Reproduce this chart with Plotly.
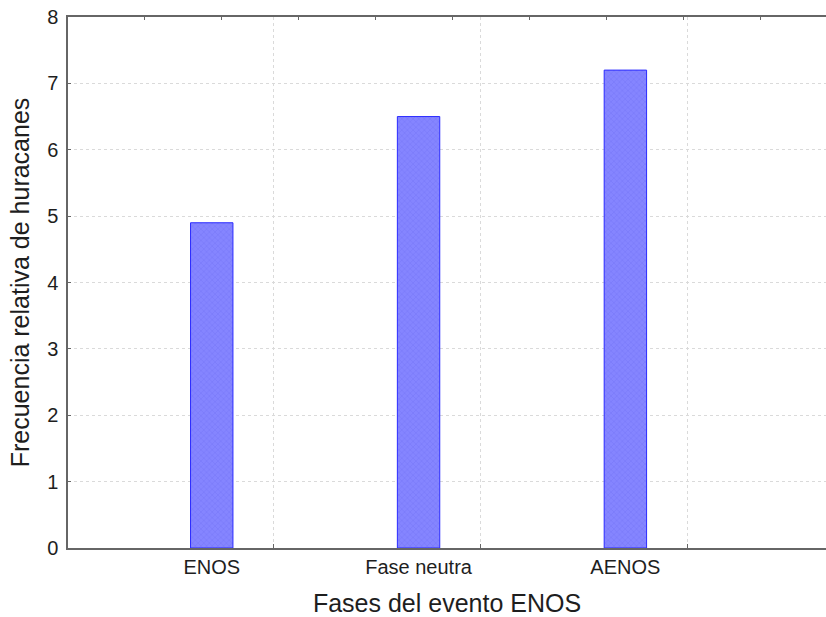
import plotly.graph_objects as go

# Hurricane relative frequency by ENSO phase
categories = ["ENOS", "Fase neutra", "AENOS"]
positions = [1, 2, 3]
frequencies = [4.9, 6.5, 7.2]
y_ticks = [0, 1, 2, 3, 4, 5, 6, 7, 8]

FONT = "Liberation Sans, Arial, sans-serif"
TEXT = "#1e1e1e"
AXIS = "#666666"
GRID = "#dadada"

fig = go.Figure()

fig.add_trace(go.Bar(
    x=positions,
    y=frequencies,
    width=0.205,
    marker=dict(
        color="#7f7fff",
        line=dict(color="#2a2aff", width=1),
        pattern=dict(shape="x", fgcolor="#6a6af0", bgcolor="#8585ff",
                     size=4, solidity=0.25),
    ),
    showlegend=False,
    hoverinfo="skip",
))

# empty trace that carries the tick-only top axis
fig.add_trace(go.Scatter(x=[], y=[], xaxis="x2", yaxis="y",
                         showlegend=False, hoverinfo="skip"))

fig.update_layout(
    width=826,
    height=617,
    margin=dict(l=68, r=0, t=17, b=69),
    plot_bgcolor="white",
    paper_bgcolor="white",
    font=dict(family=FONT, color=TEXT),
    xaxis=dict(
        range=[0.305, 3.97],
        tickmode="array",
        tickvals=positions,
        ticktext=categories,
        ticks="",
        tickfont=dict(size=20, family=FONT, color=TEXT),
        showgrid=False,
        minor=dict(tick0=0.3, dtick=1, ticks="inside", ticklen=4,
                   tickcolor=AXIS, showgrid=True, gridcolor=GRID,
                   griddash="dot", gridwidth=1),
        showline=True,
        linecolor=AXIS,
        linewidth=1.5,
        mirror=True,
        zeroline=False,
        title=dict(text="Fases del evento ENOS",
                   font=dict(size=25, family=FONT, color=TEXT), standoff=18),
    ),
    xaxis2=dict(
        overlaying="x",
        side="top",
        range=[0, 9.857],
        tickmode="array",
        tickvals=[1, 2, 3, 4, 5, 6, 7, 8, 9],
        showticklabels=False,
        ticks="inside",
        ticklen=3,
        tickcolor=AXIS,
        showgrid=False,
        zeroline=False,
        showline=False,
    ),
    yaxis=dict(
        range=[0, 8],
        tickmode="array",
        tickvals=y_ticks,
        ticks="inside",
        ticklen=3,
        tickcolor=AXIS,
        tickfont=dict(size=20, family=FONT, color=TEXT),
        ticklabelstandoff=4,
        showgrid=True,
        gridcolor=GRID,
        griddash="dot",
        gridwidth=1,
        showline=True,
        linecolor=AXIS,
        linewidth=1.5,
        mirror=False,
        zeroline=False,
        title=dict(text="Frecuencia relativa de huracanes",
                   font=dict(size=25, family=FONT, color=TEXT), standoff=10),
    ),
)

fig.write_html("out.html")
